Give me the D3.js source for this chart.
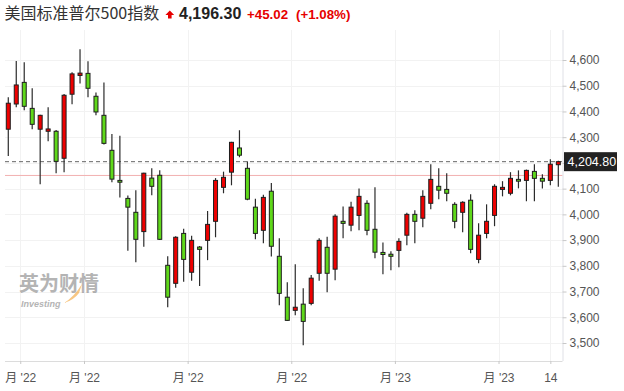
<!DOCTYPE html>
<html>
<head>
<meta charset="utf-8">
<script src="https://cdn.jsdelivr.net/npm/d3@7"></script>
<style>
  body { margin: 0; background: #fff; }
  svg { display: block; font-family: "Liberation Sans", Arial, "Noto Sans CJK SC", sans-serif; }
</style>
</head>
<body>
<script>
// weekly candles, Jan 2022 - May 2023
var open = [4331,4429,4513,4412,4331,4323,4323,4218,4467,4540,
  4548,4459,4385,4249,4132,4062,4008,3933,4141,4152,
  3802,3732,3926,3775,3873,3899,3973,4105,4164,4258,
  4179,4028,3938,4090,3837,3678,3627,3651,3654,3771,
  3872,3787,3973,3958,3996,4043,3942,3852,3845,3860,
  3919,4000,3985,4043,4109,4097,4039,4008,4055,3825,
  3926,3996,4097,4082,4136,4132,4167,4140,4132,4193];
var high = [4455,4596,4591,4490,4387,4416,4328,4468,4552,4642,
  4595,4474,4513,4312,4306,4073,4094,4162,4179,4171,
  3837,3915,3944,3917,3877,4013,4141,4166,4282,4327,
  4206,4061,4076,4122,3907,3736,3806,3713,3764,3907,
  3913,4000,4031,4049,4101,4055,4105,3891,3857,3907,
  4006,4016,4094,4195,4179,4160,4047,4051,4078,3965,
  4039,4117,4129,4164,4171,4174,4195,4156,4214,4208];
var low = [4227,4416,4405,4331,4117,4284,4160,4164,4428,4509,
  4455,4385,4272,4125,4066,3859,3814,3874,4074,3900,
  3639,3715,3738,3742,3722,3822,3911,4082,4113,4222,
  4055,3903,3888,3836,3647,3586,3608,3491,3647,3742,
  3697,3744,3907,3934,3938,3919,3829,3767,3783,3794,
  3880,3888,3950,4020,4059,4051,3946,3930,3849,3810,
  3907,3954,4070,4074,4101,4051,4051,4101,4113,4107];
var close = [4432,4503,4420,4350,4385,4332,4206,4463,4546,4549,
  4490,4398,4276,4137,4125,4028,3903,4160,4109,3903,
  3678,3911,3825,3899,3864,3961,4132,4144,4280,4230,
  4059,3926,4066,3876,3693,3588,3639,3584,3752,3899,
  3771,3993,3965,4028,4070,3938,3853,3844,3837,3895,
  4000,3973,4070,4136,4094,4082,3973,4047,3864,3919,
  3973,4109,4105,4140,4129,4171,4140,4129,4195,4204.8];

var yTicks = [3500,3600,3700,3800,3900,4000,4100,4200,4300,4400,4500,4600];
// tick positions in candle index units
var xTickPos = [1.5, 9.5, 22.5, 35.5, 48.5, 61.5, 68];
var xTickLabels = ["月 '22", "月 '22", "月 '22", "月 '22", "月 '23", "月 '23", "14"];

var lastPrice = 4204.80;
var prevClose = 4151.28;

var width = 624, height = 391;

var svg = d3.select("body").append("svg")
  .attr("width", width)
  .attr("height", height);

var x = d3.scaleLinear().domain([-0.5, 69.5]).range([4.3, 562.3]);
var y = d3.scaleLinear().domain([3500, 4600]).range([343, 60]);

var plotLeft = 5, plotRight = 562.5, plotTop = 30, plotBottom = 361;

// grid
svg.append("g").selectAll("line")
  .data(yTicks).enter().append("line")
  .attr("x1", plotLeft).attr("x2", plotRight)
  .attr("y1", d => Math.round(y(d)) + 0.5).attr("y2", d => Math.round(y(d)) + 0.5)
  .attr("stroke", "#f2f2f2");

svg.append("g").selectAll("line")
  .data(xTickPos).enter().append("line")
  .attr("x1", d => Math.round(x(d)) + 0.5).attr("x2", d => Math.round(x(d)) + 0.5)
  .attr("y1", plotTop).attr("y2", plotBottom)
  .attr("stroke", "#f2f2f2");

// watermark
var wm = svg.append("g").attr("opacity", 0.55);
wm.append("text")
  .attr("x", 19).attr("y", 291)
  .attr("font-family", "'Noto Sans CJK SC'")
  .attr("font-weight", "bold")
  .attr("font-size", 20)
  .attr("fill", "#777")
  .text("英为财情");
wm.append("text")
  .attr("x", 21).attr("y", 307)
  .attr("font-weight", "bold")
  .attr("font-style", "italic")
  .attr("font-size", 9)
  .attr("fill", "#777")
  .text("Investing");
wm.append("path")
  .attr("d", "M64,303 Q74,297 82,284 L79,293 Q74,300 64,303 Z")
  .attr("fill", "#f39a1e");

// previous close and last price lines
svg.append("line")
  .attr("x1", plotLeft).attr("x2", plotRight)
  .attr("y1", y(prevClose)).attr("y2", y(prevClose))
  .attr("stroke", "#f2b0b0").attr("stroke-width", 1);

svg.append("line")
  .attr("x1", plotLeft).attr("x2", plotRight)
  .attr("y1", y(lastPrice)).attr("y2", y(lastPrice))
  .attr("stroke", "#666").attr("stroke-width", 1)
  .attr("stroke-dasharray", "4,3");

// candles
var idx = d3.range(open.length);
var bodyW = 4;

var candles = svg.append("g").selectAll("g")
  .data(idx).enter().append("g");

candles.append("line")
  .attr("x1", i => x(i)).attr("x2", i => x(i))
  .attr("y1", i => y(high[i])).attr("y2", i => y(low[i]))
  .attr("stroke", "#2b2b2b").attr("stroke-width", 1.2);

candles.append("rect")
  .attr("x", i => x(i) - bodyW / 2)
  .attr("width", bodyW)
  .attr("y", i => y(Math.max(open[i], close[i])))
  .attr("height", i => Math.max(1.5, Math.abs(y(open[i]) - y(close[i]))))
  .attr("fill", i => close[i] >= open[i] ? "#ee0000" : "#5fd81a")
  .attr("stroke", "#1e1e1e").attr("stroke-width", 1);

// y axis (label hidden where the price tag sits)
var yAxis = svg.append("g")
  .attr("transform", "translate(" + plotRight + ",0)")
  .call(d3.axisRight(y).tickValues(yTicks).tickSize(4).tickPadding(3)
    .tickFormat(d => Math.abs(y(d) - y(lastPrice)) < 12 ? "" : d3.format(",")(d)));
yAxis.select(".domain").attr("d", "M0.5," + plotTop + "V" + plotBottom).attr("stroke", "#dfe0e6");
yAxis.selectAll(".tick line").attr("stroke", "#c8c8c8");
yAxis.selectAll(".tick text")
  .attr("fill", "#555").attr("font-size", 12)
  .attr("font-family", "'Liberation Sans', Arial, sans-serif");

// x axis
var xAxis = svg.append("g")
  .attr("transform", "translate(0," + plotBottom + ")")
  .call(d3.axisBottom(x).tickValues(xTickPos).tickSize(3).tickPadding(9)
    .tickFormat((d, i) => xTickLabels[i]));
xAxis.select(".domain").attr("d", "M" + plotLeft + ",0.5H" + plotRight).attr("stroke", "#dcdcdc");
xAxis.selectAll(".tick line").attr("stroke", "#c8c8c8");
xAxis.selectAll(".tick text")
  .attr("fill", "#555").attr("font-size", 12)
  .attr("font-family", "'Liberation Sans', 'Noto Sans CJK SC', sans-serif");

// last price tag
svg.append("rect")
  .attr("x", 564).attr("y", y(lastPrice) - 9.5)
  .attr("width", 53).attr("height", 19)
  .attr("fill", "#222");
svg.append("text")
  .attr("x", 567.5).attr("y", y(lastPrice) + 4.5)
  .attr("fill", "#fff").attr("font-size", 12.5)
  .text(d3.format(",.2f")(lastPrice));

// header
var header = svg.append("g");
header.append("text")
  .attr("x", 4.5).attr("y", 19)
  .attr("font-family", "'Noto Sans CJK SC'")
  .attr("font-size", 16)
  .attr("fill", "#333")
  .text("美国标准普尔500指数");
header.append("path")
  .attr("d", "M169.8,10.5 L174.2,15 L171.6,15 L171.6,18.5 L168,18.5 L168,15 L165.4,15 Z")
  .attr("fill", "#e60000");
header.append("text")
  .attr("x", 179).attr("y", 19)
  .attr("font-weight", "bold").attr("font-size", 16)
  .attr("fill", "#222")
  .text("4,196.30");
header.append("text")
  .attr("x", 247).attr("y", 19)
  .attr("font-weight", "bold").attr("font-size", 13.3)
  .attr("fill", "#e60000")
  .text("+45.02");
header.append("text")
  .attr("x", 296).attr("y", 19)
  .attr("font-weight", "bold").attr("font-size", 13.3)
  .attr("fill", "#e60000")
  .text("(+1.08%)");
</script>
</body>
</html>
